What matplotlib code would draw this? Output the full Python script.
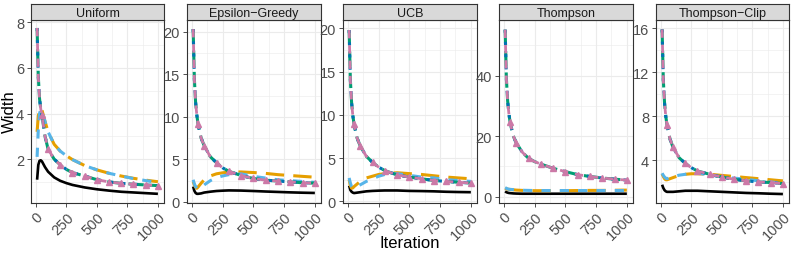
import matplotlib
matplotlib.use("Agg")
import matplotlib.pyplot as plt
from matplotlib.ticker import MultipleLocator

plt.rcParams['font.family'] = ['Liberation Sans', 'DejaVu Sans']

# --- data ---
iters = [10, 20, 30, 40, 50, 75, 100, 150, 200, 250, 300, 400, 500, 600, 700, 800, 900, 1000]
panels = ["Uniform", "Epsilon\u2212Greedy", "UCB", "Thompson", "Thompson\u2212Clip"]

unif_top = [7.75, 5.6, 4.65, 4.2, 3.92, 3.0, 2.44, 2.0, 1.75, 1.55, 1.41, 1.26, 1.1, 1.0, 0.94, 0.9, 0.87, 0.84]
unif_orange = [3.2, 3.9, 4.2, 4.25, 4.15, 3.65, 3.2, 2.65, 2.35, 2.15, 1.98, 1.72, 1.53, 1.38, 1.26, 1.16, 1.08, 1.01]
unif_sky = [2.1, 3.3, 4.0, 4.2, 4.15, 3.65, 3.2, 2.65, 2.35, 2.15, 1.98, 1.72, 1.53, 1.38, 1.26, 1.15, 1.06, 0.98]
unif_black = [1.1, 1.75, 1.93, 1.95, 1.9, 1.65, 1.45, 1.2, 1.05, 0.95, 0.87, 0.76, 0.68, 0.62, 0.57, 0.54, 0.51, 0.48]

eps_top = [20.3, 14.4, 11.7, 10.2, 9.1, 7.5, 6.6, 5.3, 4.6, 4.0, 3.6, 3.1, 2.75, 2.55, 2.45, 2.35, 2.25, 2.2]
eps_orange = [2.4, 2.0, 1.7, 1.6, 1.75, 2.2, 2.6, 3.05, 3.3, 3.42, 3.5, 3.52, 3.45, 3.35, 3.2, 3.1, 3.0, 2.9]
eps_sky = [2.6, 2.1, 1.8, 1.6, 1.5, 1.7, 2.0, 2.5, 2.85, 3.05, 3.2, 3.3, 3.0, 2.8, 2.6, 2.5, 2.4, 2.3]
eps_black = [1.8, 1.3, 1.05, 0.95, 0.95, 1.0, 1.1, 1.2, 1.28, 1.32, 1.35, 1.33, 1.28, 1.22, 1.17, 1.12, 1.08, 1.05]

ucb_top = [19.8, 14.0, 11.4, 9.9, 8.9, 7.3, 6.4, 5.2, 4.5, 3.95, 3.55, 3.05, 2.8, 2.6, 2.4, 2.3, 2.2, 2.1]
ucb_orange = [2.5, 1.8, 1.5, 1.55, 1.7, 2.0, 2.3, 2.7, 2.9, 3.1, 3.2, 3.3, 3.2, 3.1, 2.95, 2.8, 2.7, 2.6]
ucb_sky = [2.7, 2.1, 1.7, 1.55, 1.5, 1.7, 1.9, 2.3, 2.6, 2.9, 3.1, 3.2, 3.0, 2.8, 2.7, 2.5, 2.4, 2.3]
ucb_black = [1.8, 1.3, 1.1, 1.0, 0.95, 1.0, 1.05, 1.15, 1.2, 1.23, 1.25, 1.25, 1.2, 1.18, 1.15, 1.1, 1.07, 1.05]

ts_top = [55.2, 39.0, 31.8, 27.6, 24.7, 20.2, 17.8, 14.7, 12.7, 11.6, 10.8, 9.4, 8.3, 7.3, 6.7, 6.2, 5.8, 5.5]
ts_orange = [2.8, 2.6, 2.5, 2.45, 2.4, 2.3, 2.2, 2.1, 2.05, 2.0, 2.0, 2.0, 2.0, 2.05, 2.1, 2.1, 2.15, 2.2]
ts_sky = [3.0, 2.8, 2.6, 2.5, 2.45, 2.35, 2.25, 2.15, 2.1, 2.05, 2.05, 2.05, 2.05, 2.05, 2.05, 2.05, 2.05, 2.05]
ts_black = [1.8, 1.5, 1.35, 1.25, 1.2, 1.1, 1.05, 1.0, 1.0, 1.0, 1.0, 1.0, 1.0, 1.0, 1.0, 1.0, 1.0, 1.0]

tsc_top = [15.9, 11.3, 9.2, 8.0, 7.2, 5.9, 5.15, 4.2, 3.7, 3.3, 3.0, 2.7, 2.45, 2.25, 2.1, 2.0, 1.95, 1.85]
tsc_orange = [2.75, 2.5, 2.3, 2.2, 2.2, 2.3, 2.4, 2.6, 2.7, 2.75, 2.75, 2.7, 2.6, 2.5, 2.4, 2.3, 2.2, 2.1]
tsc_sky = [2.8, 2.6, 2.45, 2.35, 2.3, 2.4, 2.5, 2.62, 2.7, 2.75, 2.8, 2.65, 2.45, 2.35, 2.25, 2.1, 2.0, 1.9]
tsc_black = [1.75, 1.45, 1.25, 1.15, 1.1, 1.1, 1.1, 1.15, 1.2, 1.2, 1.2, 1.15, 1.1, 1.05, 1.0, 0.97, 0.93, 0.9]

tops = [unif_top, eps_top, ucb_top, ts_top, tsc_top]
oranges = [unif_orange, eps_orange, ucb_orange, ts_orange, tsc_orange]
skies = [unif_sky, eps_sky, ucb_sky, ts_sky, tsc_sky]
blacks = [unif_black, eps_black, ucb_black, ts_black, tsc_black]

ylims = [(0.1, 8.1), (-0.07, 21.37), (-0.14, 20.96), (-1.9, 58.4), (0.13, 16.76)]
yticks = [[2, 4, 6, 8], [0, 5, 10, 15, 20], [0, 5, 10, 15, 20], [0, 20, 40], [4, 8, 12, 16]]
yminor = [1, 2.5, 2.5, 10, 2]

# panel edges in pixels (left, right)
edges = [(31, 164), (187, 321), (343, 477), (499, 633), (656, 789)]
W, H = 793, 255
top_px, strip_px, bot_px = 5, 21, 203.5

# -------------------------------
# plot
# -------------------------------
fig = plt.figure(figsize=(W / 100, H / 100), dpi=100)
mark_idx = [iters.index(v) for v in [50, 100, 200, 300, 400, 500, 600, 700, 800, 900, 1000]]

for i, name in enumerate(panels):
    l, r = edges[i]
    ax = fig.add_axes([l / W, 1 - bot_px / H, (r - l) / W, (bot_px - strip_px) / H])
    ax.set_facecolor("white")
    ax.plot(iters, blacks[i], color="black", lw=1.9, solid_capstyle="butt")
    ax.plot(iters, oranges[i], color="#E69F00", lw=2.2, dashes=(6, 3))
    ax.plot(iters, skies[i], color="#56B4E9", lw=2.2, dashes=(3, 3))
    ax.plot(iters, tops[i], color="#009E73", lw=2.2, dashes=(5, 2))
    ax.plot(iters, tops[i], color="#0072B2", lw=2.2, dashes=(1, 3))
    ax.plot(iters, tops[i], color="#CC79A7", lw=2.0, dashes=(3, 2.5),
            marker="^", markersize=4.5, markevery=mark_idx)

    ax.set_xlim(-40, 1050)
    ax.set_ylim(*ylims[i])
    ax.set_xticks([0, 250, 500, 750, 1000])
    ax.set_yticks(yticks[i])
    ax.xaxis.set_minor_locator(MultipleLocator(125))
    ax.yaxis.set_minor_locator(MultipleLocator(yminor[i]))
    ax.grid(which="major", color="#EBEBEB", lw=0.8)
    ax.grid(which="minor", color="#EBEBEB", lw=0.4)
    ax.set_axisbelow(True)
    ax.tick_params(which="minor", length=0)
    ax.tick_params(which="major", length=3, width=0.6, color="#333333",
                   labelsize=10.5, labelcolor="#4D4D4D", pad=2)
    plt.setp(ax.get_xticklabels(), rotation=45, ha="right", rotation_mode="anchor")
    for s in ax.spines.values():
        s.set_color("#333333")
        s.set_linewidth(0.8)

    # strip
    sax = fig.add_axes([l / W, 1 - strip_px / H, (r - l) / W, (strip_px - top_px) / H])
    sax.set_facecolor("#D9D9D9")
    sax.set_xticks([])
    sax.set_yticks([])
    for s in sax.spines.values():
        s.set_color("#333333")
        s.set_linewidth(0.8)
    sax.text(0.5, 0.45, name, ha="center", va="center", fontsize=9, color="#1A1A1A",
             transform=sax.transAxes)

fig.text(410 / W, 1 - 244 / H, "Iteration", ha="center", va="center", fontsize=12)
fig.text(9 / W, 1 - 112 / H, "Width", ha="center", va="center", rotation=90, fontsize=12)

fig.savefig("out.png", dpi=100)
